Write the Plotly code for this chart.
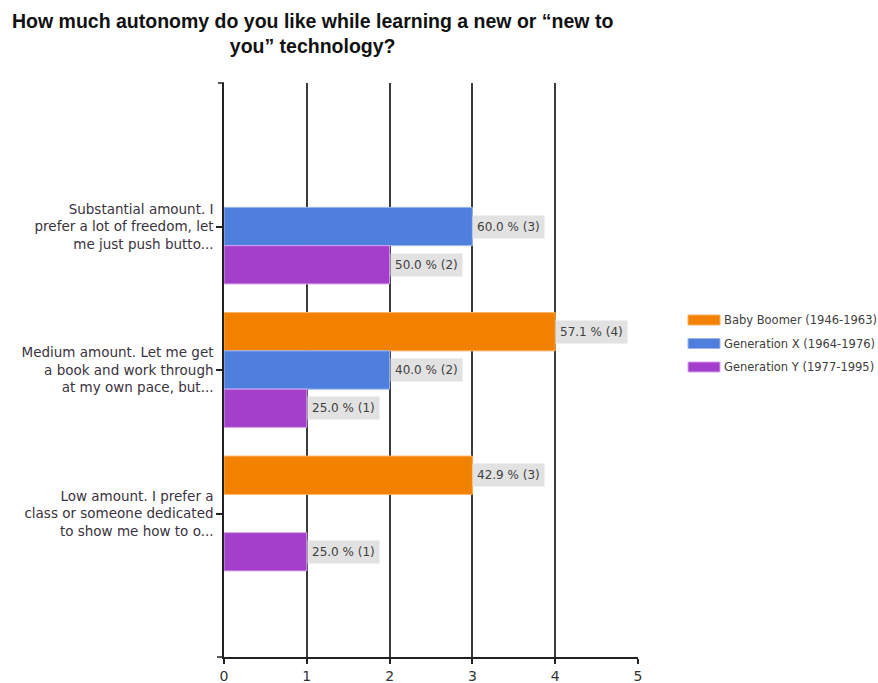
import plotly.graph_objects as go

# Survey answers (categories on the y axis, top to bottom)
categories = [
    "Substantial amount. I<br>prefer a lot of freedom, let<br>me just push butto...",
    "Medium amount. Let me get<br>a book and work through<br>at my own pace, but...",
    "Low amount. I prefer a<br>class or someone dedicated<br>to show me how to o...",
]

series_names = [
    "Baby Boomer (1946-1963)",
    "Generation X (1964-1976)",
    "Generation Y (1977-1995)",
]
# response counts per category (None = no bar)
boomer_counts = [None, 4, 3]
genx_counts = [3, 2, None]
geny_counts = [2, 1, 1]

boomer_pct = [None, 57.1, 42.9]
genx_pct = [60.0, 40.0, None]
geny_pct = [50.0, 25.0, 25.0]

x_ticks = [0, 1, 2, 3, 4, 5]

title_text = "How much autonomy do you like while learning a new or “new to<br>you” technology?"

colors = ["#F28100", "#4F7FDE", "#A43FCB"]
edge_colors = ["#FFB060", "#9DB8F0", "#D9A0EE"]

counts = [boomer_counts, genx_counts, geny_counts]
pcts = [boomer_pct, genx_pct, geny_pct]

W, H = 878, 683
ML, MR, MT, MB = 224, 240, 83, 26
plot_w = W - ML - MR
plot_h = H - MT - MB

FONT = "DejaVu Sans, Verdana, sans-serif"

cat_pos = list(range(len(categories)))
bargap = 0.2
bar_w = (1 - bargap) / len(series_names)

fig = go.Figure()
annotations = []
for i, name in enumerate(series_names):
    offset = (i - (len(series_names) - 1) / 2) * bar_w
    ys = [c for c, v in zip(cat_pos, counts[i]) if v is not None]
    xs = [v for v in counts[i] if v is not None]
    fig.add_trace(go.Bar(
        name=name,
        orientation="h",
        y=ys,
        x=xs,
        width=bar_w,
        offset=offset - bar_w / 2,
        marker=dict(color=colors[i], line=dict(color=edge_colors[i], width=1)),
        showlegend=False,
        hoverinfo="skip",
    ))
    for c, v, p in zip(cat_pos, counts[i], pcts[i]):
        if v is None:
            continue
        annotations.append(dict(
            x=v, y=c + offset, xref="x", yref="y",
            text=f"{p:.1f} % ({v})",
            showarrow=False, xanchor="left", yanchor="middle",
            bgcolor="#E2E2E2", borderpad=4,
            font=dict(family=FONT, size=12, color="#404040"),
        ))


def px_x(px):
    return (px - ML) / plot_w


def px_y(py):
    return (H - MB - py) / plot_h


# legend drawn as swatches with labels
shapes = []
leg_top = 320
leg_step = 23.5
for i, name in enumerate(series_names):
    cy = leg_top + i * leg_step
    shapes.append(dict(
        type="rect", xref="paper", yref="paper",
        x0=px_x(688), x1=px_x(720), y0=px_y(cy + 5), y1=px_y(cy - 5),
        fillcolor=colors[i], line=dict(color=edge_colors[i], width=1),
    ))
    annotations.append(dict(
        x=px_x(722), y=px_y(cy), xref="paper", yref="paper",
        text=name, showarrow=False, xanchor="left", yanchor="middle",
        font=dict(family=FONT, size=11.5, color="#404040"),
    ))

# small cap at the top of the value axis and left extension of the base line
shapes.append(dict(type="line", xref="paper", yref="paper",
                   x0=px_x(218), x1=0, y0=1, y1=1,
                   line=dict(color="#222222", width=1.5)))
shapes.append(dict(type="line", xref="paper", yref="paper",
                   x0=px_x(217), x1=0, y0=0, y1=0,
                   line=dict(color="#222222", width=1.5)))

# chart title
annotations.append(dict(
    x=px_x(312), y=px_y(8), xref="paper", yref="paper",
    text=f"<b>{title_text}</b>", showarrow=False,
    xanchor="center", yanchor="top", align="center",
    font=dict(family="Liberation Sans, Arial", size=19.5, color="#111111"),
))

fig.update_layout(
    width=W, height=H,
    margin=dict(l=ML, r=MR, t=MT, b=MB),
    paper_bgcolor="white", plot_bgcolor="white",
    barmode="overlay",
    xaxis=dict(
        range=[0, 5], tickvals=x_ticks, ticktext=[str(t) for t in x_ticks],
        showgrid=True, gridcolor="#3A3A3A", gridwidth=1.5,
        zeroline=False, automargin=False,
        showline=True, linecolor="#222222", linewidth=1.5,
        ticks="outside", ticklen=5, tickcolor="#222222", tickwidth=1.5,
        tickfont=dict(family=FONT, size=14, color="#333333"),
    ),
    yaxis=dict(
        range=[len(categories), -1],
        tickvals=cat_pos, ticktext=categories,
        showgrid=False, zeroline=False, automargin=False,
        showline=True, linecolor="#222222", linewidth=1.5,
        ticks="outside", ticklen=6, tickcolor="#222222", tickwidth=1.5,
        tickfont=dict(family=FONT, size=13.5, color="#3A3340"),
    ),
    annotations=annotations,
    shapes=shapes,
)

fig.write_html("out.html")
